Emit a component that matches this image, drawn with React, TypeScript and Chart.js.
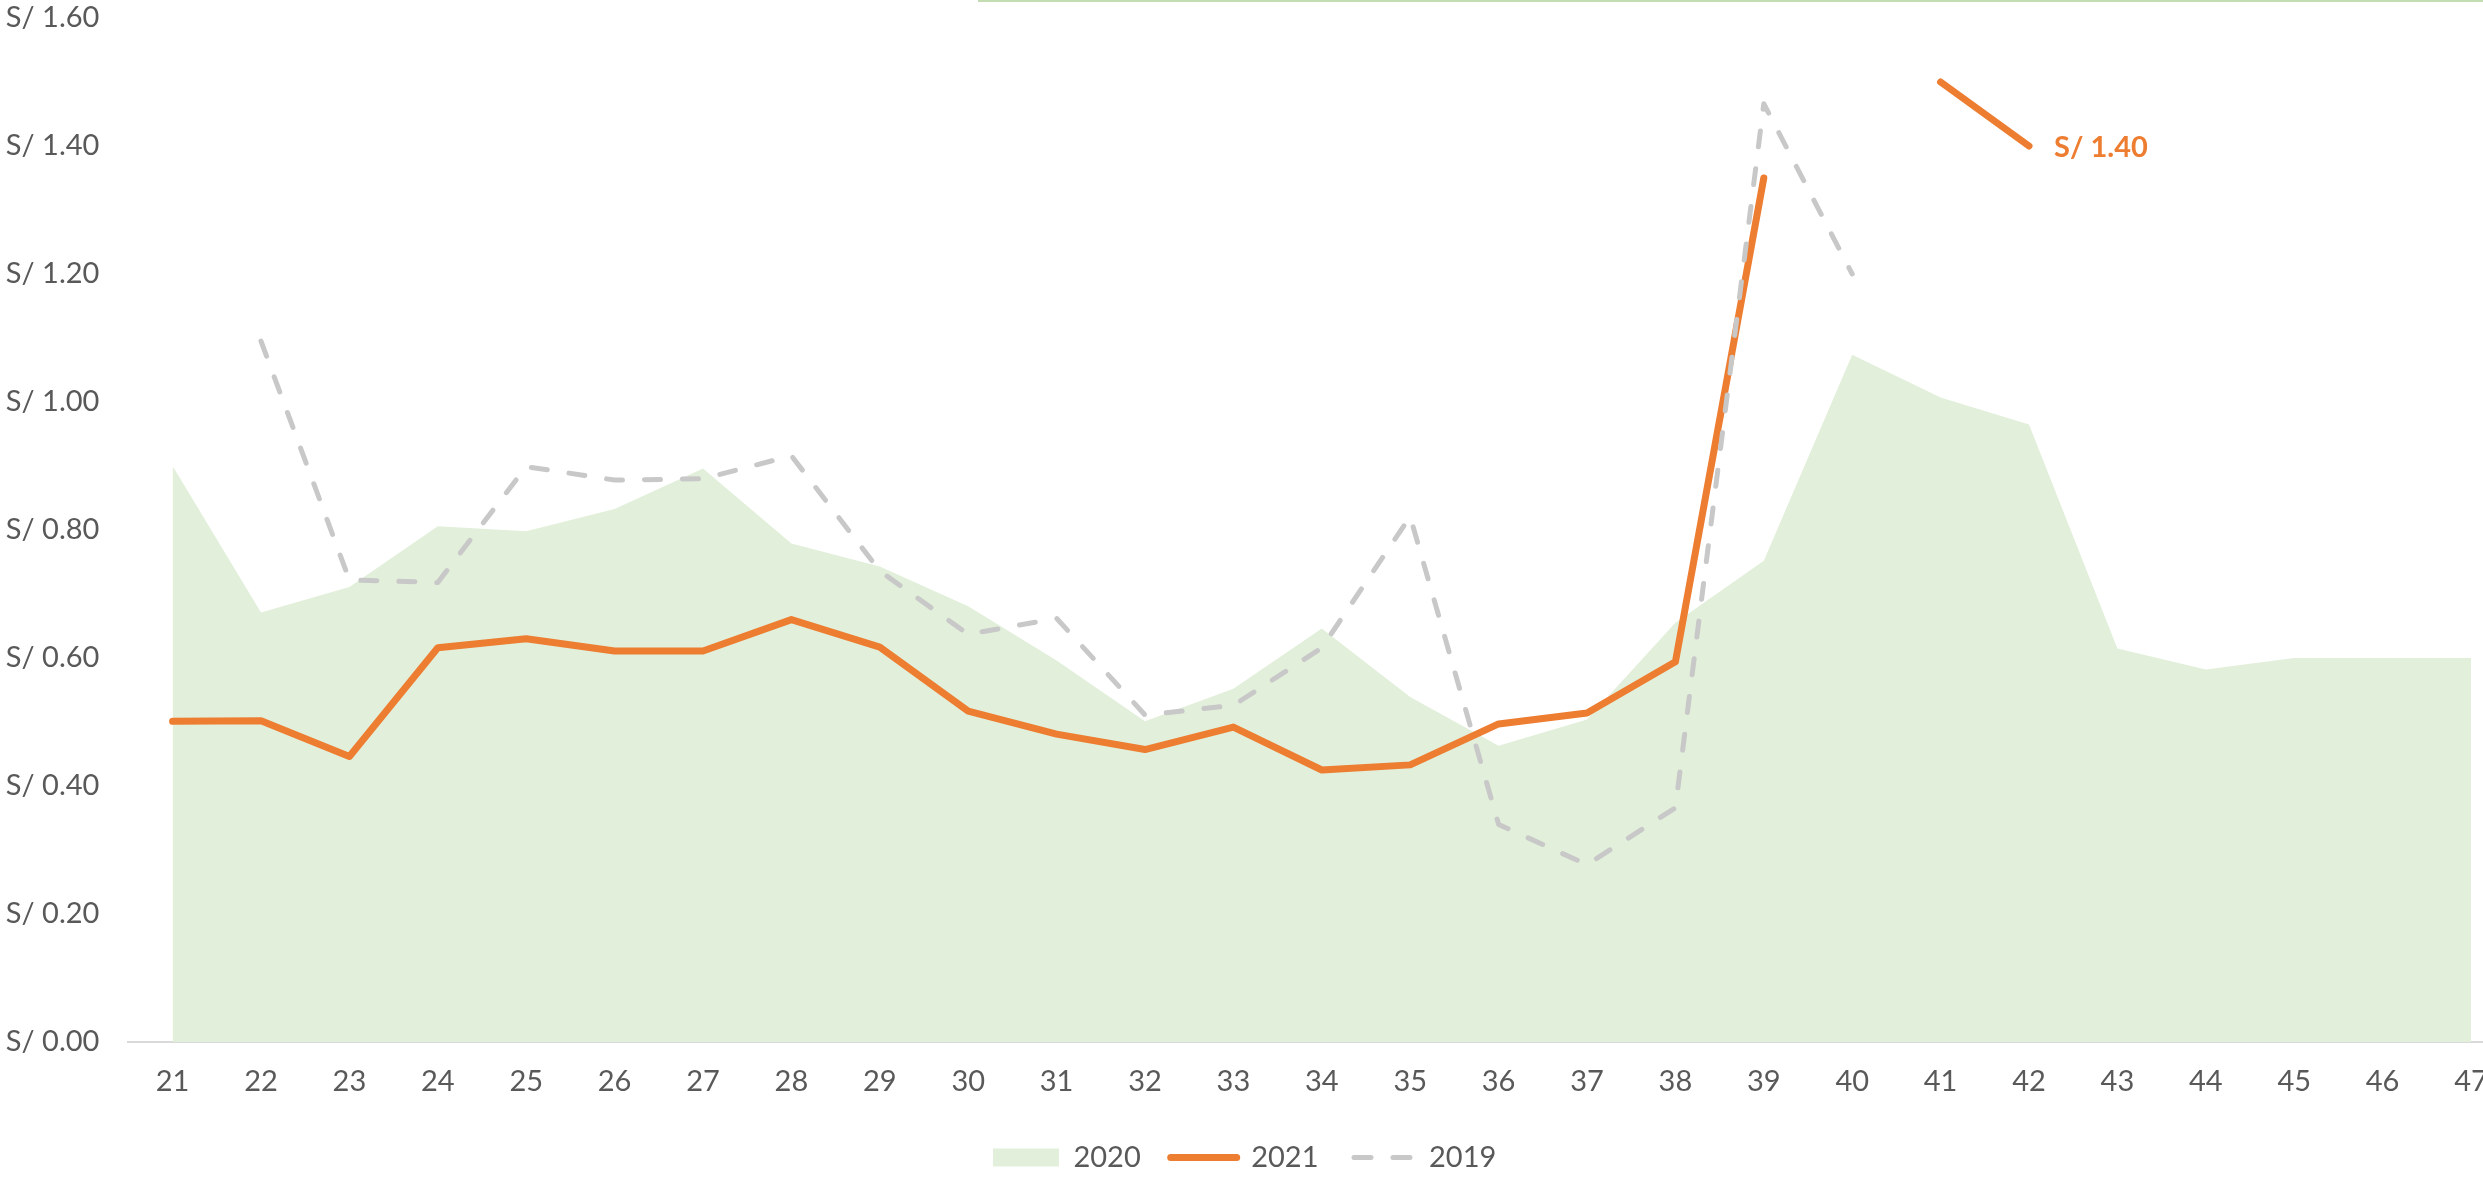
import React, { useEffect, useRef } from "react";
import { Chart, registerables } from "chart.js";

Chart.register(...registerables);

// ---- data ----
const weeks = ["21", "22", "23", "24", "25", "26", "27", "28", "29", "30", "31", "32", "33", "34", "35", "36", "37", "38", "39", "40", "41", "42", "43", "44", "45", "46", "47"];

const price2020 = [0.900, 0.671, 0.711, 0.806, 0.798, 0.833, 0.896, 0.779, 0.743, 0.681, 0.596, 0.501, 0.552, 0.646, 0.539, 0.463, 0.504, 0.655, 0.752, 1.074, 1.007, 0.965, 0.615, 0.582, 0.600, 0.600, 0.600];

const price2021 = [0.501, 0.502, 0.446, 0.616, 0.630, 0.611, 0.611, 0.660, 0.617, 0.517, 0.481, 0.457, 0.492, 0.425, 0.433, 0.497, 0.514, 0.594, 1.350, null, null, null, null, null, null, null, null];

const price2019 = [null, 1.095, 0.722, 0.718, 0.899, 0.878, 0.880, 0.916, 0.736, 0.637, 0.662, 0.511, 0.526, 0.616, 0.821, 0.340, 0.277, 0.366, 1.466, 1.200, null, null, null, null, null, null, null];

const callout2021 = [null, null, null, null, null, null, null, null, null, null, null, null, null, null, null, null, null, null, null, null, 1.50, 1.40, null, null, null, null, null];

const seriesNames = ["2020", "2021", "2019"];
const yTickMin = 0;
const yTickMax = 1.6;
const yTickStep = 0.2;

// ---- style ----
const ORANGE = "#ED7D31";
const GREY = "#C8C8C8";
const GREEN = "#E2EFDA";
const TEXT = "#595959";
const FONT = "Lato, 'Open Sans', sans-serif";

const VIEW_W = 2483;
const VIEW_H = 1182;
const SHIFT = 36;
const CANVAS_W = 2555;

const extrasPlugin = {
  id: "extras",
  beforeDraw(chart: any) {
    const ctx = chart.ctx;
    ctx.save();
    ctx.strokeStyle = "#C3DCB2";
    ctx.lineWidth = 2;
    ctx.beginPath();
    ctx.moveTo(978 + SHIFT, 1);
    ctx.lineTo(chart.width, 1);
    ctx.stroke();
    ctx.restore();
  },
  afterDatasetsDraw(chart: any) {
    const ctx = chart.ctx;
    const meta = chart.getDatasetMeta(3);
    let idx = -1;
    callout2021.forEach((v, i) => {
      if (v !== null) idx = i;
    });
    if (idx < 0) return;
    const pt = meta.data[idx];
    ctx.save();
    ctx.font = `bold 29px ${FONT}`;
    ctx.fillStyle = ORANGE;
    ctx.textBaseline = "middle";
    ctx.textAlign = "left";
    ctx.fillText(`S/ ${(callout2021[idx] as number).toFixed(2)}`, pt.x + 25, pt.y + 2);
    ctx.restore();
  },
};

export default function App() {
  const ref = useRef<HTMLCanvasElement | null>(null);

  useEffect(() => {
    if (!ref.current) return;
    const chart = new Chart(ref.current, {
      type: "line",
      data: {
        labels: weeks,
        datasets: [
          {
            label: seriesNames[2],
            data: price2019,
            borderColor: GREY,
            backgroundColor: GREY,
            borderWidth: 5,
            borderDash: [16, 22],
            borderCapStyle: "round",
            borderJoinStyle: "round",
            pointRadius: 0,
            pointHoverRadius: 0,
            pointStyle: "line",
            fill: false,
            tension: 0,
          },
          {
            label: seriesNames[1],
            data: price2021,
            borderColor: ORANGE,
            backgroundColor: ORANGE,
            borderWidth: 7,
            borderCapStyle: "round",
            borderJoinStyle: "round",
            pointRadius: 0,
            pointHoverRadius: 0,
            pointStyle: "line",
            fill: false,
            tension: 0,
          },
          {
            label: seriesNames[0],
            data: price2020,
            borderColor: "rgba(0,0,0,0)",
            backgroundColor: GREEN,
            borderWidth: 0,
            pointRadius: 0,
            pointHoverRadius: 0,
            pointStyle: "rect",
            fill: "origin",
            tension: 0,
          },
          {
            label: "callout",
            data: callout2021,
            borderColor: ORANGE,
            backgroundColor: ORANGE,
            borderWidth: 7,
            borderCapStyle: "round",
            pointRadius: 0,
            pointHoverRadius: 0,
            fill: false,
            tension: 0,
          },
        ],
      },
      options: {
        responsive: false,
        animation: false,
        events: [],
        layout: {
          padding: { left: SHIFT - 26, right: CANVAS_W - SHIFT - 2515.2, top: 18, bottom: 0 },
        },
        plugins: {
          tooltip: { enabled: false },
          legend: {
            position: "bottom",
            labels: {
              usePointStyle: true,
              pointStyleWidth: 66,
              boxHeight: 18,
              padding: 30,
              color: TEXT,
              font: { family: FONT, size: 29 },
              generateLabels: (c: any) => {
                const base = (Chart as any).defaults.plugins.legend.labels.generateLabels(c);
                return base
                  .filter((item: any) => item.text !== "callout")
                  .map((item: any) => {
                    const ds: any = c.data.datasets[item.datasetIndex];
                    const dashed = Array.isArray(ds.borderDash) && ds.borderDash.length > 0;
                    return {
                      ...item,
                      fillStyle: ds.backgroundColor,
                      strokeStyle: ds.borderColor,
                      lineWidth: ds.borderWidth,
                      lineCap: "round",
                      lineDash: dashed ? [17, 22] : [],
                      lineDashOffset: dashed ? 33.5 : 0,
                    };
                  });
              },
              sort: (a: any, b: any) => b.datasetIndex - a.datasetIndex,
            },
          },
        },
        scales: {
          x: {
            type: "category",
            offset: true,
            grid: { display: false, drawTicks: false },
            border: { display: true, color: "#D9D9D9", width: 2 },
            ticks: {
              color: TEXT,
              font: { family: FONT, size: 29 },
              padding: 22,
              maxRotation: 0,
              autoSkip: false,
            },
            afterFit: (scale: any) => {
              scale.height = 71;
            },
          },
          y: {
            min: yTickMin,
            max: yTickMax,
            grid: { display: false, drawTicks: false },
            border: { display: false },
            ticks: {
              stepSize: yTickStep,
              color: TEXT,
              font: { family: FONT, size: 29 },
              padding: 29,
              callback: (v: any) => `S/ ${Number(v).toFixed(2)}`,
            },
            afterFit: (scale: any) => {
              scale.width = 154.4;
              scale.paddingTop = 0;
              scale.paddingBottom = 0;
            },
          },
        },
      },
      plugins: [extrasPlugin],
    } as any);
    return () => chart.destroy();
  }, []);

  return (
    <div
      style={{
        position: "fixed",
        left: 0,
        top: 0,
        width: VIEW_W,
        height: VIEW_H,
        overflow: "hidden",
        background: "#ffffff",
      }}
    >
      <canvas
        ref={ref}
        width={CANVAS_W}
        height={VIEW_H}
        style={{ position: "absolute", left: -SHIFT, top: 0, width: CANVAS_W, height: VIEW_H }}
      />
    </div>
  );
}
